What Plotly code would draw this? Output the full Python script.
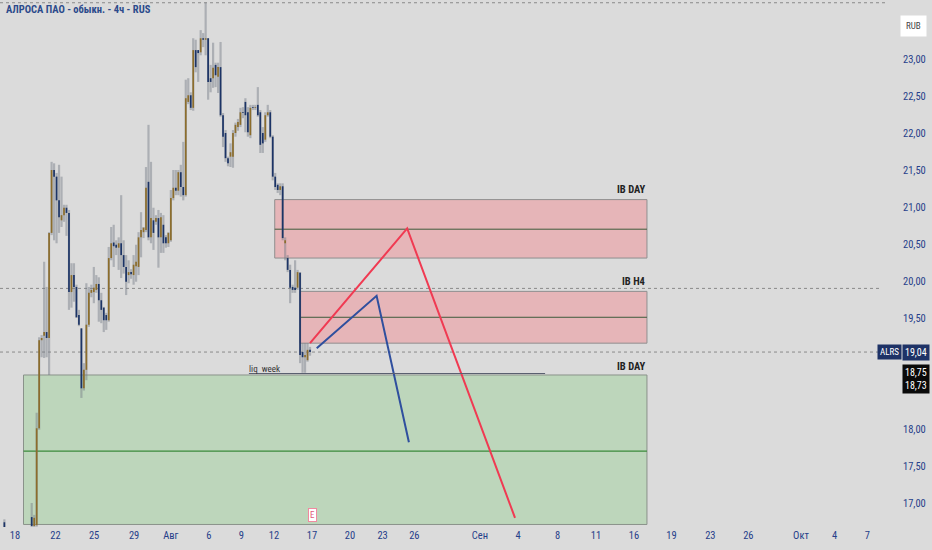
import plotly.graph_objects as go

# ---------------------------------------------------------------------------
# data (4h candles)
# ---------------------------------------------------------------------------
bars = [-11] + list(range(113))

opens = [16.74,
    16.81, 16.69, 16.70, 18.01, 19.20, 19.26, 19.31, 19.23, 20.65, 21.50,
    21.41, 21.09, 20.82, 20.89, 20.99, 20.92, 19.85, 20.08, 19.92, 19.54,
    19.36, 18.55, 18.80, 19.41, 19.84, 19.85, 19.88, 19.96, 19.74, 19.64,
    19.54, 19.47, 20.31, 20.52, 20.49, 20.45, 20.51, 20.35, 20.19, 20.08,
    20.12, 20.08, 20.20, 20.19, 20.59, 20.66, 20.69, 21.34, 20.59, 20.82,
    20.80, 20.85, 20.59, 20.76, 20.59, 20.51, 20.55, 21.12, 21.26, 21.22,
    21.47, 21.27, 21.16, 22.42, 22.51, 22.34, 23.12, 23.12, 23.09, 23.28,
    23.26, 23.28, 22.74, 22.74, 22.92, 22.76, 22.89, 22.24, 22.00, 21.66,
    21.68, 21.68, 22.00, 22.08, 22.11, 22.28, 22.42, 22.28, 21.97, 22.35,
    22.34, 22.38, 22.28, 22.00, 21.91, 22.24, 22.28, 21.95, 21.41, 21.30,
    21.23, 21.28, 20.51, 20.31, 20.15, 19.92, 19.91, 19.91, 20.11, 19.04,
    18.97, 18.93, 19.07]

highs = [16.78,
    17.00, 16.84, 18.22, 19.24, 19.27, 20.26, 19.92, 20.66, 21.61, 21.59,
    21.46, 21.57, 21.41, 21.03, 21.03, 20.96, 20.24, 20.24, 19.95, 19.61,
    19.36, 18.89, 19.97, 19.92, 19.95, 20.19, 20.08, 20.05, 19.84, 19.65,
    19.57, 20.46, 20.73, 20.76, 20.55, 20.59, 21.16, 20.55, 20.35, 20.28,
    20.16, 20.35, 20.49, 20.66, 20.93, 20.73, 21.54, 22.11, 21.61, 20.99,
    20.89, 20.96, 20.92, 20.89, 20.62, 20.66, 21.23, 21.50, 21.50, 21.50,
    21.57, 21.88, 22.72, 22.74, 22.55, 23.28, 23.26, 23.12, 23.39, 23.35,
    23.76, 23.28, 22.92, 23.22, 22.95, 22.95, 23.23, 22.27, 22.04, 21.68,
    21.86, 22.04, 22.14, 22.19, 22.34, 22.35, 22.47, 22.35, 22.38, 22.38,
    22.38, 22.62, 22.31, 22.08, 22.28, 22.38, 22.31, 21.97, 21.46, 21.32,
    21.32, 21.32, 20.59, 20.35, 20.22, 19.95, 20.28, 20.15, 20.12, 19.16,
    19.16, 19.16, 19.11]

lows = [16.60,
    16.62, 16.66, 16.68, 17.99, 18.97, 18.96, 18.97, 18.73, 20.62, 20.55,
    20.51, 20.65, 20.73, 20.80, 20.61, 19.61, 19.64, 19.72, 19.50, 19.39,
    18.42, 18.52, 18.66, 19.38, 19.78, 19.70, 19.84, 19.45, 19.43, 19.31,
    19.34, 19.45, 20.28, 20.19, 20.35, 20.15, 20.04, 20.10, 19.81, 19.97,
    20.03, 19.95, 19.99, 20.08, 20.32, 20.58, 20.66, 20.55, 20.51, 20.42,
    20.76, 20.18, 20.38, 20.38, 20.45, 20.46, 20.53, 21.09, 21.16, 21.16,
    21.14, 21.09, 21.14, 22.39, 22.31, 22.30, 22.82, 22.69, 23.05, 23.16,
    23.05, 22.45, 22.55, 22.61, 22.62, 22.54, 22.22, 21.81, 21.61, 21.55,
    21.54, 21.53, 21.95, 22.03, 22.08, 22.20, 22.01, 21.95, 21.93, 22.31,
    22.31, 22.22, 21.73, 21.73, 21.88, 22.22, 21.93, 21.36, 21.23, 21.19,
    21.16, 20.55, 20.28, 20.12, 19.70, 19.84, 19.84, 19.88, 18.89, 18.76,
    18.76, 18.91, 18.99]

closes = [16.66,
    16.69, 16.80, 18.01, 19.20, 19.23, 19.31, 19.23, 20.65, 21.50, 21.41,
    21.09, 20.86, 20.89, 20.99, 20.92, 19.85, 20.08, 19.92, 19.51, 19.41,
    18.55, 18.80, 19.41, 19.84, 19.88, 19.91, 19.96, 19.74, 19.61, 19.47,
    19.47, 20.31, 20.51, 20.47, 20.45, 20.51, 20.35, 20.19, 19.99, 20.12,
    20.09, 20.22, 20.26, 20.59, 20.69, 20.72, 21.26, 20.59, 20.85, 20.65,
    20.85, 20.59, 20.86, 20.51, 20.51, 20.65, 21.12, 21.26, 21.22, 21.47,
    21.27, 21.16, 22.47, 22.51, 22.34, 23.12, 22.89, 23.08, 23.28, 23.26,
    23.28, 22.69, 22.69, 22.88, 22.78, 22.89, 22.24, 21.95, 21.66, 21.59,
    21.74, 22.00, 22.11, 22.15, 22.28, 22.27, 22.24, 22.01, 22.34, 22.34,
    22.35, 22.24, 21.84, 21.86, 22.24, 22.28, 21.95, 21.41, 21.27, 21.23,
    21.28, 20.58, 20.55, 20.15, 19.91, 19.88, 19.88, 20.12, 19.00, 18.97,
    19.00, 19.07, 19.04]

last_price = 19.04
prev_level = 19.90
liq_week = 18.75
liq_week_span = [87.4, 206.6]

# zones: (left bar, right bar, bottom, top, middle)
ib_day_top = (97.8, 247.6, 20.31, 21.10, 20.70)
ib_h4 = (108.0, 247.6, 19.16, 19.86, 19.51)
ib_day_low = (-3.3, 247.6, 16.71, 18.73, 17.70)

# scenario zigzags
red_path_x = [112.0, 151.1, 194.5]
red_path_y = [19.16, 20.71, 16.80]
blue_path_x = [114.7, 138.8, 151.8]
blue_path_y = [19.09, 19.80, 17.82]

# time scale
date_ticks = [-6.7, 9.6, 25.1, 41.2, 56.0, 71.3, 84.4, 97.5, 112.8, 128.1,
              141.2, 154.0, 180.4, 195.7, 211.6, 227.1, 242.4, 257.5, 273.1,
              288.4, 309.6, 323.1, 336.3]
date_labels = ["18", "22", "25", "29", "Авг", "6", "9", "12", "17", "20",
               "23", "26", "Сен", "4", "8", "11", "16", "19", "23", "26",
               "Окт", "4", "7"]

price_ticks = [17.0, 17.5, 18.0, 19.5, 20.0, 20.5, 21.0, 21.5, 22.0, 22.5, 23.0]

# ---------------------------------------------------------------------------
BG = "#dbdbdb"
AXIS_TEXT = "#26408a"
BULL = "#8c6d2c"
BEAR = "#1c3466"
WICK = "rgba(115,122,134,0.45)"
FONT = "Liberation Sans Narrow, Roboto Condensed, DejaVu Sans Condensed, sans-serif"

X_RANGE = [-12.76, 343.8]
Y_RANGE = [16.676, 23.797]

wick_x, wick_y = [], []
bull_x, bull_y, bear_x, bear_y = [], [], [], []
for b, o, h, l, c in zip(bars, opens, highs, lows, closes):
    wick_x += [b, b, None]
    wick_y += [l, h, None]
    if c >= o:
        bull_x += [b, b, None]
        bull_y += [o, c, None]
    else:
        bear_x += [b, b, None]
        bear_y += [o, c, None]

fig = go.Figure()

# zones
for x0, x1, lo, hi, mid in (ib_day_top, ib_h4):
    fig.add_shape(type="rect", x0=x0, x1=x1, y0=lo, y1=hi, layer="below",
                  fillcolor="#e6b5b8", line=dict(color="#8f8f8f", width=1))
    fig.add_shape(type="line", x0=x0, x1=x1, y0=mid, y1=mid, layer="below",
                  line=dict(color="#3f5a3b", width=1))
x0, x1, lo, hi, mid = ib_day_low
fig.add_shape(type="rect", x0=x0, x1=x1, y0=lo, y1=hi, layer="below",
              fillcolor="#bdd6bb", line=dict(color="#8a928a", width=1))
fig.add_shape(type="line", x0=x0, x1=x1, y0=mid, y1=mid, layer="below",
              line=dict(color="#3b8a3b", width=1.2))

# dotted levels
for lvl, x_end in ((max(highs), 1.0), (prev_level, 0.993), (last_price, 0.993)):
    fig.add_shape(type="line", xref="paper", x0=0, x1=x_end, y0=lvl, y1=lvl,
                  layer="below", line=dict(color="#8a8a8a", width=1, dash="dot"))

# liq week line
fig.add_shape(type="line", x0=liq_week_span[0], x1=liq_week_span[1],
              y0=liq_week, y1=liq_week, line=dict(color="#5a6070", width=1))

# candles
fig.add_trace(go.Scatter(x=wick_x, y=wick_y, mode="lines",
                         line=dict(color=WICK, width=2.2), hoverinfo="skip"))
fig.add_trace(go.Scatter(x=bull_x, y=bull_y, mode="lines",
                         line=dict(color=BULL, width=1.7), hoverinfo="skip"))
fig.add_trace(go.Scatter(x=bear_x, y=bear_y, mode="lines",
                         line=dict(color=BEAR, width=1.7), hoverinfo="skip"))

# scenario paths
fig.add_trace(go.Scatter(x=red_path_x, y=red_path_y, mode="lines",
                         line=dict(color="#f03a52", width=2)))
fig.add_trace(go.Scatter(x=blue_path_x, y=blue_path_y, mode="lines",
                         line=dict(color="#2f4f9e", width=2)))

# zone labels
for text, y in (("IB DAY", 21.24), ("IB H4", 19.99), ("IB DAY", 18.85)):
    fig.add_annotation(x=247.6, y=y, text=f"<b>{text}</b>", showarrow=False,
                       xanchor="right", font=dict(size=10.5, color="#222222", family=FONT))
fig.add_annotation(x=93.5, y=18.81, text="liq  week", showarrow=False,
                   font=dict(size=9, color="#333333", family=FONT))

# earnings marker
fig.add_annotation(x=112.8, y=16.84, text="E", showarrow=False,
                   font=dict(size=9, color="#e05a7a", family=FONT),
                   bgcolor="#ffffff", bordercolor="#f08aa0", borderwidth=1, borderpad=1)

# title
fig.add_annotation(xref="paper", yref="paper", x=0.005, y=0.999, xanchor="left",
                   yanchor="top", text="<b>АЛРОСА ПАО - обыкн. - 4ч - RUS</b>",
                   showarrow=False, font=dict(size=10.5, color="#2b4a8b", family=FONT))

# price scale labels
fig.add_annotation(xref="paper", yref="paper", x=1.0305, y=0.9706, text="RUB",
                   xanchor="center", showarrow=False,
                   font=dict(size=9, color="#444444", family=FONT),
                   bgcolor="#ffffff", borderpad=5)
fig.add_annotation(xref="paper", x=1.004, y=last_price, text="ALRS", showarrow=False,
                   xanchor="center", font=dict(size=9, color="#ffffff", family=FONT),
                   bgcolor="#1e3266", borderpad=2)
fig.add_annotation(xref="paper", x=1.0333, y=last_price, text="19,04", showarrow=False,
                   xanchor="center", font=dict(size=10, color="#ffffff", family=FONT),
                   bgcolor="#1e3266", borderpad=2)
fig.add_annotation(xref="paper", x=1.0333, y=18.676, text="18,75<br>18,73",
                   xanchor="center", showarrow=False,
                   font=dict(size=10, color="#ffffff", family=FONT),
                   bgcolor="#0a0a0a", borderpad=2)

fig.update_layout(
    width=932, height=550,
    paper_bgcolor=BG, plot_bgcolor=BG,
    margin=dict(l=0, r=46, t=0, b=23),
    showlegend=False,
    font=dict(family=FONT, size=11, color=AXIS_TEXT),
    xaxis=dict(range=X_RANGE, tickvals=date_ticks, ticktext=date_labels,
               showgrid=False, zeroline=False, showline=False, ticks="",
               tickfont=dict(size=10.5, color=AXIS_TEXT)),
    yaxis=dict(range=Y_RANGE, side="right", tickvals=price_ticks,
               ticktext=[f"{v:.2f}".replace(".", ",") for v in price_ticks],
               showgrid=False, zeroline=False, showline=False, ticks="",
               ticklabelstandoff=16, tickfont=dict(size=10.5, color=AXIS_TEXT)),
)

# the page body has a default 8px margin; drop it so the chart fills the window
fig.write_html("out.html",
               config={"displayModeBar": False},
               post_script="document.body.style.margin='0';"
                           "document.body.style.overflow='hidden';")
